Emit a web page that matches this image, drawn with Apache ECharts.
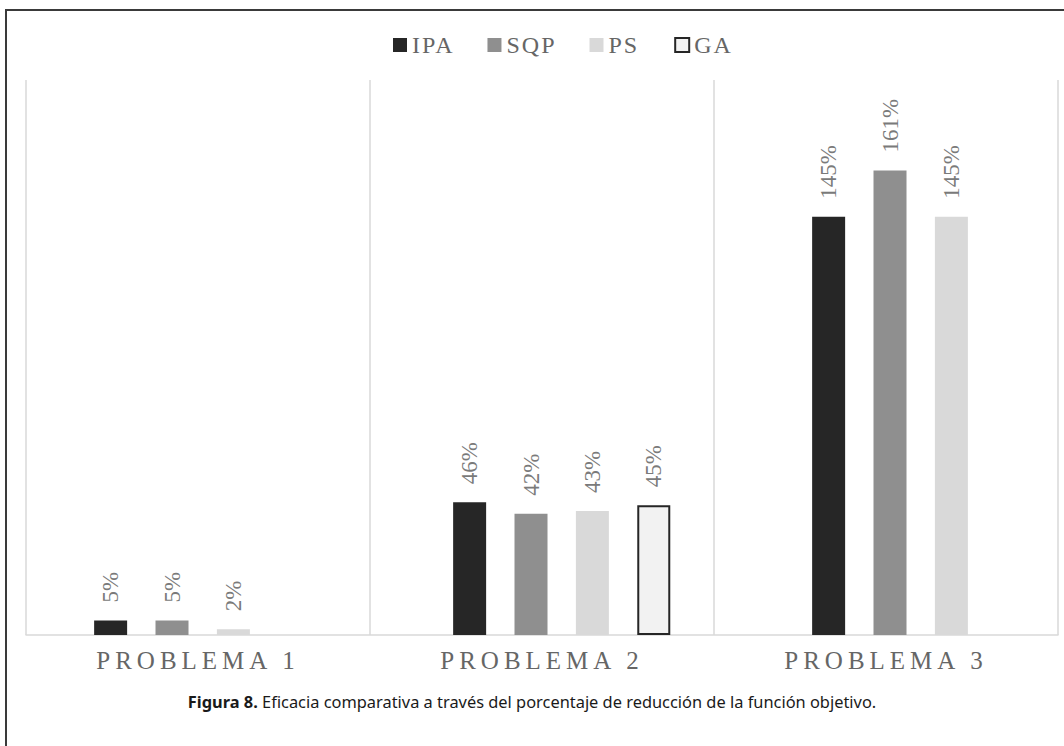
<!DOCTYPE html>
<html>
<head>
<meta charset="utf-8">
<script src="https://cdn.jsdelivr.net/npm/echarts@6/dist/echarts.min.js"></script>
<style>
  html, body { margin: 0; padding: 0; background: #ffffff; }
  #chart { width: 1064px; height: 746px; }
  /* spaced-out capitals for the category names, slight tracking for the legend */
  #chart text[style*="25px"] { letter-spacing: 5px; }
  #chart text[style*="24px"] { letter-spacing: 2px; }
  /* value labels in the serif face */
  #chart text[style*="23px"] { font-family: "Liberation Serif", serif !important; }
</style>
</head>
<body>
<div id="chart"></div>
<script>
// Percentage reduction of the objective function, per problem and method
const categories = ['PROBLEMA 1', 'PROBLEMA 2', 'PROBLEMA 3'];
const methods = ['IPA', 'SQP', 'PS', 'GA'];
const ipaValues = [5, 46, 145];
const sqpValues = [5, 42, 161];
const psValues = [2, 43, 145];
const gaValues = [null, 45, null];
const caption = 'Eficacia comparativa a través del porcentaje de reducción de la función objetivo.';

const serifFont = 'Liberation Serif';
const methodStyles = [
  { color: '#262626' },
  { color: '#8f8f8f' },
  { color: '#d9d9d9' },
  { color: '#f2f2f2', borderColor: '#262626', borderWidth: 2 }
];
const valueSets = [ipaValues, sqpValues, psValues, gaValues];

const chart = echarts.init(document.getElementById('chart'), null, { renderer: 'svg' });

const barSeries = methods.map((name, i) => ({
  name: name,
  type: 'bar',
  xAxisIndex: 1,
  yAxisIndex: 1,
  data: valueSets[i],
  barWidth: 33,
  barGap: '86%',
  itemStyle: methodStyles[i],
  label: {
    show: true,
    position: 'top',
    rotate: 90,
    align: 'left',
    verticalAlign: 'middle',
    distance: 18,
    formatter: '{c}%',
    color: '#7a7a7a',
    textBorderWidth: 0,
    textBorderColor: 'transparent',
    fontFamily: serifFont,
    fontSize: 23
  }
}));

chart.setOption({
  animation: false,
  backgroundColor: '#ffffff',
  title: {
    left: 'center',
    top: 688,
    text: '{b|Figura 8.} ' + caption,
    textStyle: {
      fontFamily: 'Noto Sans',
      fontSize: 16.4,
      fontWeight: 'normal',
      color: '#1a1a1a',
      rich: {
        b: { fontFamily: 'Noto Sans', fontSize: 16.4, fontWeight: 'bold', color: '#1a1a1a' }
      }
    }
  },
  legend: {
    left: 388,
    top: 28,
    itemWidth: 14,
    itemHeight: 14,
    itemGap: 39,
    icon: 'rect',
    data: methods,
    textStyle: { fontFamily: serifFont, fontSize: 24, color: '#666666' }
  },
  graphic: [
    {
      type: 'polyline',
      silent: true,
      shape: { points: [[6, 746], [6, 10], [1064, 10]] },
      style: { stroke: '#3a3a3a', lineWidth: 2, fill: null }
    }
  ],
  grid: [
    // frame of the plot: border, separators and category names
    { left: 26, right: 6, top: 80, bottom: 111 },
    // bars, laid out on a slightly wider band than the frame
    { left: 23.2, width: 1077, top: 80, bottom: 111, outerBoundsMode: 'none' }
  ],
  xAxis: [
    {
      type: 'category',
      gridIndex: 0,
      data: categories,
      axisLine: { show: true, lineStyle: { color: '#d9d9d9', width: 1.5 } },
      axisTick: { show: false },
      splitLine: { show: true, lineStyle: { color: '#d9d9d9', width: 1.5 } },
      axisLabel: {
        margin: 13,
        color: '#666666',
        fontFamily: serifFont,
        fontSize: 25
      }
    },
    {
      type: 'category',
      gridIndex: 1,
      data: categories,
      show: false
    }
  ],
  yAxis: [
    { type: 'value', gridIndex: 0, min: 0, max: 192.4, show: false, splitLine: { show: false } },
    { type: 'value', gridIndex: 1, min: 0, max: 192.4, show: false, splitLine: { show: false } }
  ],
  series: barSeries
});
</script>
</body>
</html>
